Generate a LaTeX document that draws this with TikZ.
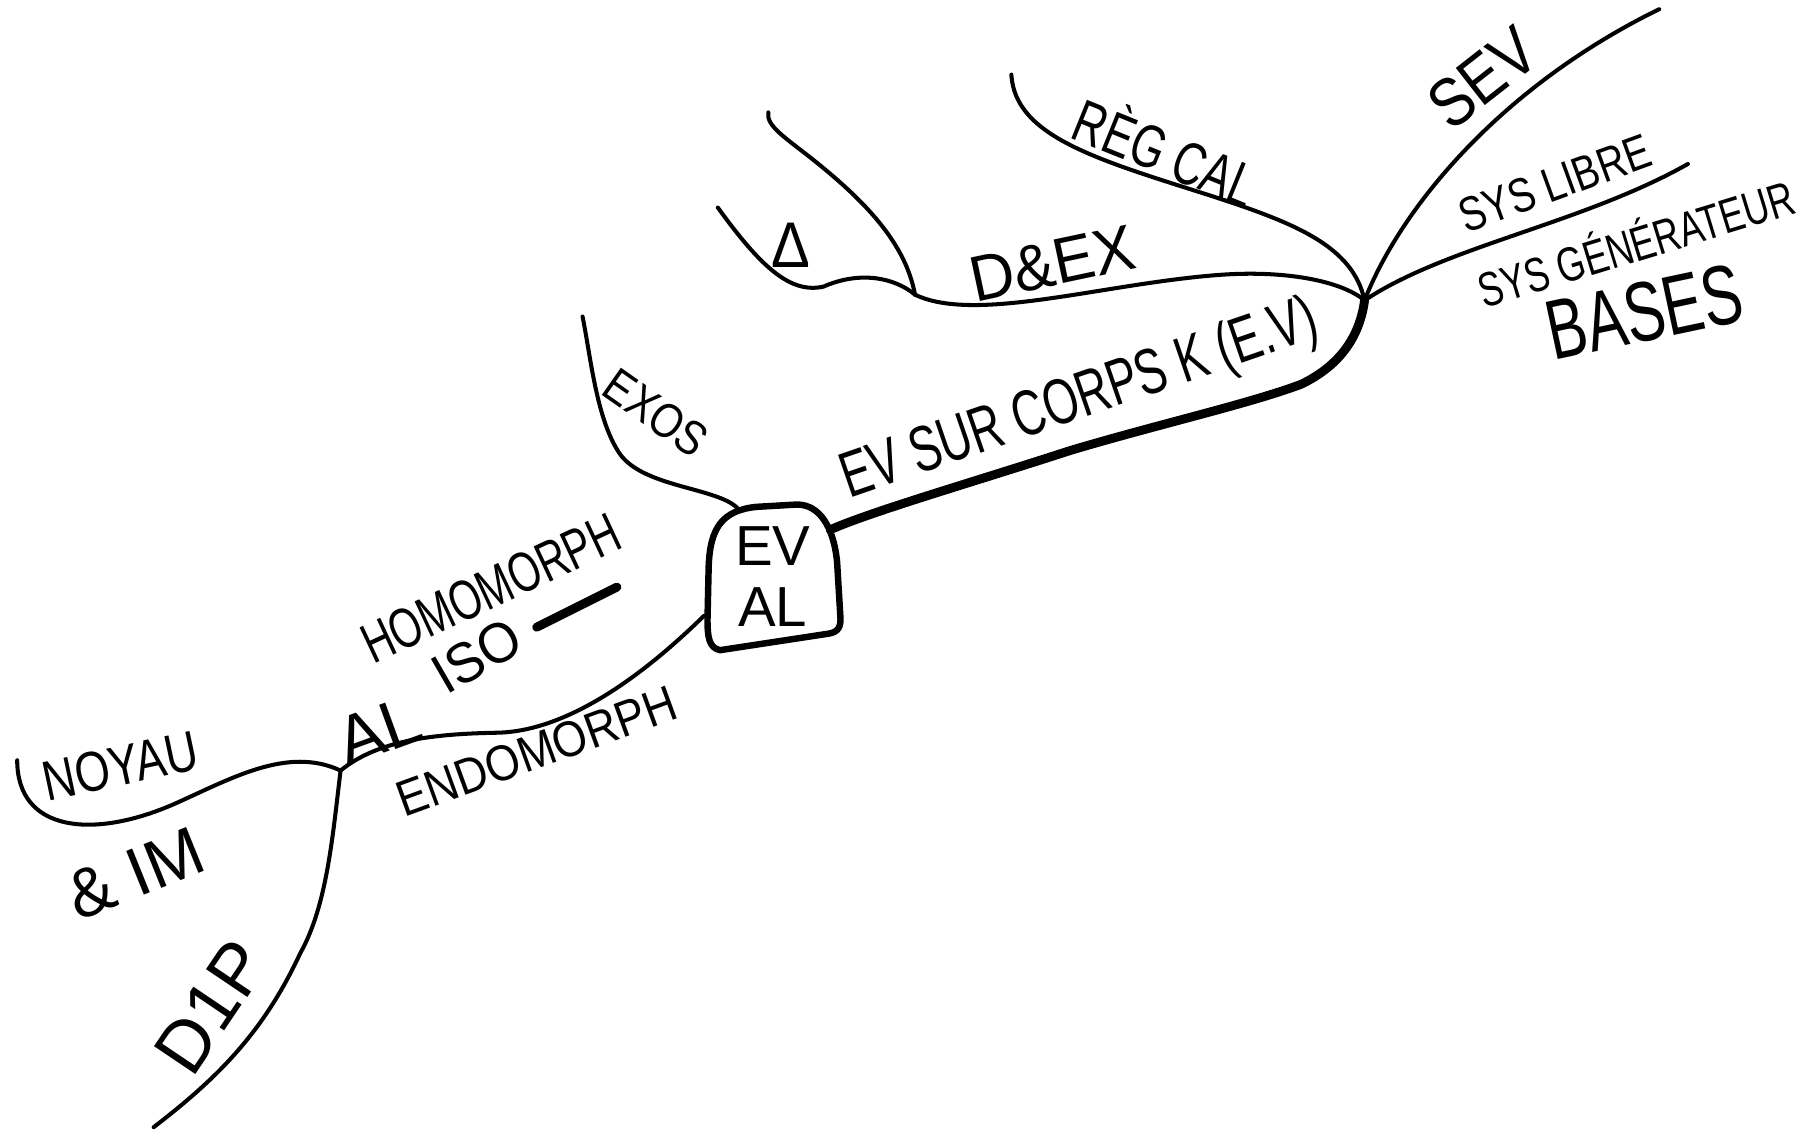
\documentclass[tikz,border=0pt]{standalone}
\usepackage{fontspec}
\setmainfont{Liberation Sans}
\usepackage{graphicx}
\newcommand{\handtxt}[3]{{\fontsize{#1}{#1}\selectfont\scalebox{#2}[1]{#3}}}
\begin{document}
\begin{tikzpicture}[x=0.01cm,y=-0.01cm,
  branch/.style={line width=1pt,line cap=round},
  trunk/.style={line width=2.2pt,line cap=round},
  lbl/.style={inner sep=0pt,outer sep=0pt},
  boxline/.style={line width=1.6pt,line join=round}]
\fill[white] (0,0) rectangle (1568,991);
\useasboundingbox (0,0) rectangle (1568,991);

% central box
\draw[boxline] (628,567) .. controls (618,565) and (617,555) .. (617,540)
  -- (618,495) .. controls (619,460) and (630,445) .. (660,442)
  -- (695,440) .. controls (715,440) and (727,460) .. (730,490)
  -- (733,540) .. controls (733,550) and (728,552) .. (720,553) -- cycle;
\node[lbl,align=center] (eval) at (674,503) {\handtxt{14}{1}{EV}\\[3pt]\handtxt{14}{1}{AL}};

% attachment coordinates
\coordinate (boxR) at (724,462);
\coordinate (boxTL) at (643,443);
\coordinate (boxL) at (614,537);
\coordinate (hub) at (1190,262);
\coordinate (dexj) at (798,257);
\coordinate (alj) at (297,672);
\coordinate (sevEnd) at (1447,8);
\coordinate (libEnd) at (1472,143);
\coordinate (regEnd) at (882,65);
\coordinate (delEnd) at (626,181);
\coordinate (upEnd) at (670,98);
\coordinate (exoEnd) at (508,276);
\coordinate (noyEnd) at (15,663);
\coordinate (dipEnd) at (134,983);
\coordinate (isoA) at (468,547);
\coordinate (isoB) at (538,512);

% trunk to hub
\draw[trunk] (boxR) .. controls (760,446) and (850,420) .. (933,393)
  .. controls (1010,370) and (1090,352) .. (1135,335)
  .. controls (1170,318) and (1186,292) .. (hub);
% hub branches
\draw[branch] (hub) .. controls (1222,180) and (1310,75) .. (sevEnd);
\draw[branch] (hub) .. controls (1260,215) and (1380,195) .. (libEnd);
\draw[branch] (hub) .. controls (1180,215) and (1130,195) .. (1060,172)
  .. controls (960,140) and (885,120) .. (regEnd);
\draw[branch] (hub) .. controls (1170,245) and (1120,235) .. (1060,240)
  .. controls (960,248) and (850,282) .. (dexj);
\draw[branch] (dexj) .. controls (780,242) and (750,236) .. (718,250)
  .. controls (690,256) and (665,235) .. (delEnd);
\draw[branch] (dexj) .. controls (790,215) and (760,180) .. (710,140)
  .. controls (685,120) and (668,110) .. (upEnd);
% box top-left branch
\draw[branch] (boxTL) .. controls (625,425) and (560,425) .. (540,395)
  .. controls (520,365) and (515,310) .. (exoEnd);
% left branch to AL
\draw[branch] (boxL) .. controls (570,580) and (500,638) .. (433,639)
  .. controls (380,640) and (330,645) .. (alj);
\draw[branch] (alj) .. controls (250,650) and (200,680) .. (150,702)
  .. controls (80,732) and (15,725) .. (noyEnd);
\draw[branch] (alj) .. controls (290,730) and (285,790) .. (262,831)
  .. controls (230,900) and (190,940) .. (dipEnd);
\draw[line width=2.2pt,line cap=round] (isoA) -- (isoB);

% labels
\node[lbl,rotate=19] (evsur) at (942,350) {\handtxt{16}{0.7}{EV SUR CORPS K (E.V)}};
\node[lbl,rotate=12] (dex) at (918,230) {\handtxt{16}{0.95}{D\&EX}};
\node[lbl] (delta) at (690,214) {\handtxt{16}{0.9}{Δ}};
\node[lbl,rotate=-22] (reg) at (1018,130) {\handtxt{15}{0.72}{RÈG CAL}};
\node[lbl,rotate=38] (sev) at (1293,68) {\handtxt{17}{0.85}{SEV}};
\node[lbl,rotate=20] (libre) at (1356,160) {\handtxt{12}{0.8}{SYS LIBRE}};
\node[lbl,rotate=17] (gen) at (1426,210) {\handtxt{12}{0.74}{SYS GÉNÉRATEUR}};
\node[lbl,rotate=12] (bases) at (1434,272) {\handtxt{21}{0.7}{BASES}};
\node[lbl,rotate=-35] (exos) at (572,360) {\handtxt{12}{0.85}{EXOS}};
\node[lbl,rotate=25] (homo) at (428,513) {\handtxt{14}{0.72}{HOMOMORPH}};
\node[lbl,rotate=30] (iso) at (416,572) {\handtxt{14}{0.95}{ISO}};
\node[lbl,rotate=20] (endo) at (468,655) {\handtxt{12.5}{0.88}{ENDOMORPH}};
\node[lbl,rotate=20] (allbl) at (330,637) {\handtxt{17}{1}{AL}};
\node[lbl,rotate=12] (noyau) at (105,668) {\handtxt{14}{0.8}{NOYAU}};
\node[lbl,rotate=22] (im) at (118,762) {\handtxt{17}{1}{\& IM}};
\node[lbl,rotate=56] (dip) at (184,878) {\handtxt{18}{1}{D1P}};
\end{tikzpicture}
\end{document}
